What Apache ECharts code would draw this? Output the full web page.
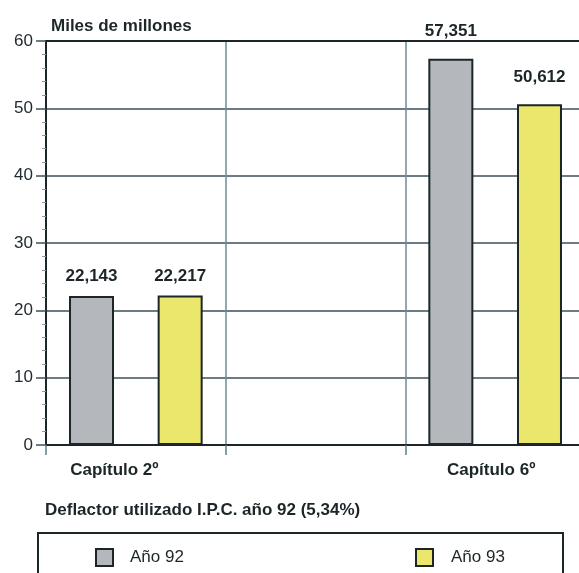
<!DOCTYPE html>
<html>
<head>
<meta charset="utf-8">
<script src="https://cdn.jsdelivr.net/npm/echarts@6/dist/echarts.min.js"></script>
<style>
  html, body { margin: 0; padding: 0; background: #ffffff; }
  #chart { width: 579px; height: 573px; }
</style>
</head>
<body>
<div id="chart"></div>
<script>
// Gasto por capítulos, miles de millones
const categories = ['Capítulo 2º', '', 'Capítulo 6º'];
const seriesNames = ['Año 92', 'Año 93'];
const ano92 = [22.143, null, 57.351];
const ano93 = [22.217, null, 50.612];
const yMin = 0, yMax = 60, yStep = 10;
const unitLabel = 'Miles de millones';
const noteLabel = 'Deflactor utilizado I.P.C. año 92 (5,34%)';

const FONT = '"Liberation Sans", Arial, Helvetica, sans-serif';
const INK = '#1c2628';
const barColors = ['#b4b8bc', '#ebe66c'];

// distance of each value label above its bar
const labelGap = [[11, 0, 19], [11, 0, 18]];

const fmt = v => v.toFixed(3).replace('.', ',');

function buildData(values, s) {
  return values.map((v, i) => v == null ? '-' : {
    value: v,
    label: { distance: labelGap[s][i] }
  });
}

const chart = echarts.init(document.getElementById('chart'), null, { renderer: 'canvas' });

chart.setOption({
  animation: false,
  backgroundColor: '#ffffff',
  textStyle: { fontFamily: FONT },
  title: {
    text: unitLabel,
    left: 46, top: 13,
    textStyle: { fontFamily: FONT, fontSize: 17, fontWeight: 'bold', color: INK }
  },
  grid: { left: 46, top: 41, width: 539, height: 404, containLabel: false, outerBoundsMode: 'none' },
  xAxis: [{
    type: 'category',
    data: categories,
    boundaryGap: true,
    axisLine: { show: true, lineStyle: { color: INK, width: 2 } },
    axisTick: { show: true, length: 10, lineStyle: { color: '#5f7f8c', width: 1.5 } },
    splitLine: { show: true, lineStyle: { color: '#6a8b98', width: 1.5 } },
    axisLabel: {
      interval: 0,
      margin: 17,
      formatter: (v, i) => v ? '{c' + i + '|' + v + '}' : '',
      rich: {
        c0: { fontFamily: FONT, fontSize: 17, fontWeight: 'bold', color: INK, padding: [0, 43, 0, 0] },
        c2: { fontFamily: FONT, fontSize: 17, fontWeight: 'bold', color: INK, padding: [0, 8, 0, 0] }
      }
    }
  }, {
    type: 'category',
    position: 'top',
    data: categories,
    axisLine: { show: true, lineStyle: { color: INK, width: 2 } },
    axisTick: { show: false },
    axisLabel: { show: false },
    splitLine: { show: false }
  }],
  yAxis: {
    type: 'value',
    min: yMin, max: yMax, interval: yStep,
    axisLine: { show: true, lineStyle: { color: INK, width: 2 } },
    axisTick: { show: true, length: 10, lineStyle: { color: '#3e5058', width: 1.5 } },
    minorTick: { show: true, splitNumber: 5, length: 4, lineStyle: { color: '#8e9aa0', width: 1 } },
    splitLine: { show: true, lineStyle: { color: '#3e5058', width: 1.5 } },
    axisLabel: { fontFamily: FONT, fontSize: 17, color: '#222c30', margin: 13 }
  },
  legend: [{
    data: [seriesNames[0]],
    left: 90, top: 543,
    itemWidth: 17, itemHeight: 17,
    icon: 'rect',
    textStyle: { fontFamily: FONT, fontSize: 17, color: INK, padding: [0, 0, 0, 12] }
  }, {
    data: [seriesNames[1]],
    left: 410, top: 543,
    itemWidth: 17, itemHeight: 17,
    icon: 'rect',
    textStyle: { fontFamily: FONT, fontSize: 17, color: INK, padding: [0, 0, 0, 13] }
  }],
  graphic: [{
    type: 'text',
    left: 45, top: 502,
    style: { text: noteLabel, font: 'bold 17px ' + FONT, fill: INK }
  }, {
    type: 'rect',
    shape: { x: 38, y: 533, width: 525, height: 70 },
    style: { fill: 'none', stroke: INK, lineWidth: 2 },
    silent: true
  }],
  series: [ano92, ano93].map((vals, s) => ({
    name: seriesNames[s],
    type: 'bar',
    data: buildData(vals, s),
    barWidth: 45,
    barGap: '97%',
    itemStyle: { color: barColors[s], borderColor: INK, borderWidth: 2 },
    label: {
      show: true,
      position: 'top',
      formatter: p => fmt(p.value),
      fontFamily: FONT, fontSize: 17, fontWeight: 'bold', color: INK
    }
  }))
});
</script>
</body>
</html>
